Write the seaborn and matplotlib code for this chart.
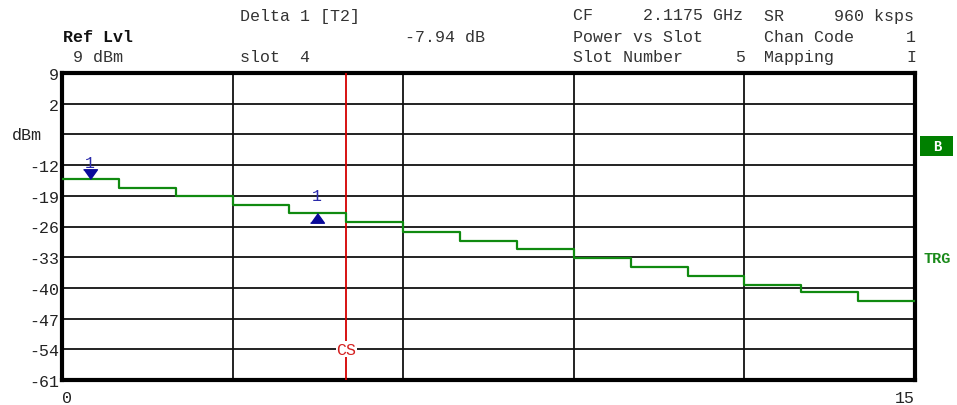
import numpy as np
import pandas as pd
import seaborn as sns
import matplotlib.pyplot as plt
from matplotlib.patches import Rectangle

# power per slot (dBm)
slots = list(range(16))
power = [-15.1, -17.2, -19.1, -21.1, -23.0, -25.0, -27.2, -29.2, -31.2, -33.2,
         -35.2, -37.2, -39.3, -40.9, -42.9]
power_steps = power + [power[-1]]

y_ticks = [9, 2, -5, -12, -19, -26, -33, -40, -47, -54, -61]
y_labels = ["9", "2", "", "-12", "-19", "-26", "-33", "-40", "-47", "-54", "-61"]
x_grid = [3, 6, 9, 12]

marker_slot = 0.49
marker_val = power[0]
delta_slot = 4.48
delta_val = power[4]
cs_slot = 5

sns.set_style("white")
plt.rcParams["font.family"] = ["Liberation Mono", "DejaVu Sans Mono"]

W, H = 957, 406
fig = plt.figure(figsize=(W / 100, H / 100), dpi=100)
ax = fig.add_axes([62 / W, (H - 381) / H, 853 / W, 307 / H])

df = pd.DataFrame({"slot": slots, "power": power_steps})
sns.lineplot(data=df, x="slot", y="power", drawstyle="steps-post",
             color="#108a10", lw=1.6, ax=ax, zorder=4)

ax.set_xlim(0, 15)
ax.set_ylim(-61, 9)
for v in y_ticks[1:-1]:
    ax.axhline(v, color="#111111", lw=1.3, zorder=1)
for v in x_grid:
    ax.axvline(v, color="#111111", lw=1.3, zorder=1)

ax.set_yticks(y_ticks)
ax.set_yticklabels(y_labels, fontsize=12, color="#222222")
ax.set_xticks([0, 15])
ax.set_xticklabels(["0", "15"], fontsize=12, color="#222222")
xl = ax.get_xticklabels()
xl[0].set_ha("left")
xl[1].set_ha("right")
ax.tick_params(axis="both", length=0, pad=2)
ax.tick_params(axis="x", pad=7)
ax.set_xlabel("")
ax.set_ylabel("")
for s in ax.spines.values():
    s.set_visible(True)
    s.set_color("black")
    s.set_linewidth(3)

# CS line
ax.axvline(cs_slot, color="#d40000", lw=1.3, zorder=3)
ax.text(cs_slot, -54, "CS", color="#d42020", fontsize=12, ha="center", va="center",
        bbox=dict(facecolor="white", edgecolor="none", pad=0.5), zorder=5)

# markers
down = [(-1, 1.4), (1, 1.4), (0, 0)]
up = [(-1, -1.4), (1, -1.4), (0, 0)]
ax.plot([marker_slot], [marker_val], marker=down, markersize=14, color="#0a0a9a",
        ls="none", zorder=6)
ax.plot([delta_slot], [delta_val], marker=up, markersize=14, color="#0a0a9a",
        ls="none", zorder=6)
ax.annotate("1", (marker_slot, marker_val), xytext=(0, 12), textcoords="offset points",
            ha="center", va="center", color="#2a2aaa", fontsize=12)
ax.annotate("1", (delta_slot, delta_val), xytext=(0, 12.5), textcoords="offset points",
            ha="center", va="center", color="#2a2aaa", fontsize=12)


def ftext(x, y, s, **kw):
    kw.setdefault("fontsize", 12)
    kw.setdefault("color", "#333333")
    kw.setdefault("va", "center")
    fig.text(x / W, 1 - y / H, s, **kw)


ftext(63, 37, "Ref Lvl", weight="bold", color="#111111")
ftext(73, 58, "9 dBm")
ftext(240, 16, "Delta 1 [T2]")
ftext(240, 58, "slot  4")
ftext(405, 37, "-7.94 dB")
ftext(573, 16, "CF     2.1175 GHz")
ftext(573, 37, "Power vs Slot")
ftext(573, 58, "Slot Number")
ftext(745, 58, "5", ha="right")
ftext(764, 16, "SR     960 ksps")
ftext(764, 37, "Chan Code")
ftext(916, 37, "1", ha="right")
ftext(764, 58, "Mapping")
ftext(916, 58, "I", ha="right")
ftext(12, 136, "dBm", color="#222222")

# side labels
fig.patches.append(Rectangle((920 / W, 1 - 157 / H), 33 / W, 20 / H,
                             transform=fig.transFigure, facecolor="#008000",
                             edgecolor="none"))
ftext(937, 147.5, "B", fontsize=10, weight="bold", color="white", ha="center")
ftext(923, 259, "TRG", weight="bold", color="#1a8a1a", fontsize=11)

fig.savefig("out.png", dpi=100, facecolor="white")
